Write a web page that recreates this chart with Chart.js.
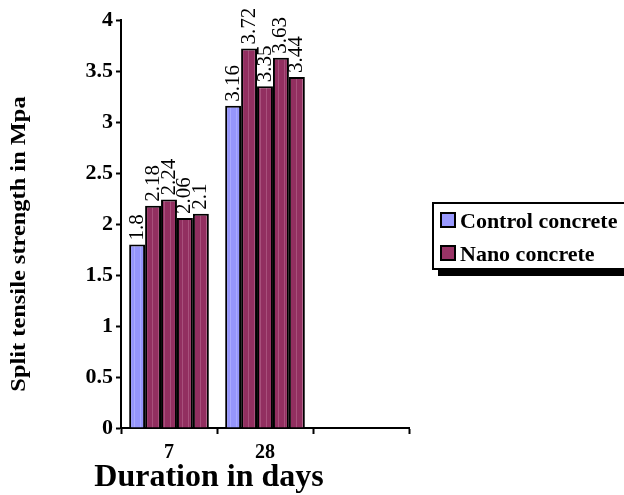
<!DOCTYPE html>
<html>
<head>
<meta charset="utf-8">
<script src="https://cdn.jsdelivr.net/npm/chart.js@4.4.1/dist/chart.umd.min.js"></script>
<style>
  html, body { margin: 0; padding: 0; background: #fff; overflow: hidden; }
  #wrap { position: relative; width: 624px; height: 495px; }
  #legend {
    position: absolute; left: 432px; top: 202px; width: 200px; height: 64px;
    border: 2px solid #000; background: #fff; box-shadow: 6px 6px 0 #000;
    font-family: "Liberation Serif", "Times New Roman", serif; font-weight: bold; font-size: 22px;
  }
  .item { position: absolute; left: 6px; height: 26px; line-height: 26px; white-space: nowrap; }
  .sw { display: inline-block; width: 12px; height: 12px; border: 2px solid #000; vertical-align: 0px; margin-right: 4px; }
</style>
</head>
<body>
<div id="wrap">
  <canvas id="c" width="624" height="495"></canvas>
  <div id="legend"></div>
</div>
<script>
// ---- data ----
const categories = ['7', '28', ''];
const controlConcrete = [1.8, 3.16, null];
const nanoConcreteA = [2.18, 3.72, null];
const nanoConcreteB = [2.24, 3.35, null];
const nanoConcreteC = [2.06, 3.63, null];
const nanoConcreteD = [2.1, 3.44, null];
const yTicks = [0, 0.5, 1, 1.5, 2, 2.5, 3, 3.5, 4];
const seriesNames = ['Control concrete', 'Nano concrete'];
const xTitle = 'Duration in days';
const yTitle = 'Split tensile strength in Mpa';

const SERIF = '"Liberation Serif", "Times New Roman", serif';
const controlColor = '#9999FF';
const nanoColor = '#993366';

function stripePattern(base, stripe) {
  const p = document.createElement('canvas');
  p.width = 6; p.height = 4;
  const g = p.getContext('2d');
  g.fillStyle = base; g.fillRect(0, 0, 6, 4);
  g.fillStyle = stripe; g.fillRect(2, 0, 1, 4);
  return document.getElementById('c').getContext('2d').createPattern(p, 'repeat');
}
const controlFill = stripePattern('#9595FB', '#A9A9FF');
const nanoFill = stripePattern('#922F60', '#A8507C');

function ds(label, data, fill) {
  return {
    label, data, backgroundColor: fill, borderColor: '#000', borderWidth: 2,
    borderSkipped: 'bottom', categoryPercentage: 0.83, barPercentage: 1.0
  };
}

const valueLabels = {
  id: 'valueLabels',
  afterDatasetsDraw(chart) {
    const ctx = chart.ctx;
    ctx.save();
    ctx.fillStyle = '#000';
    ctx.font = '21px ' + SERIF;
    ctx.textAlign = 'left';
    ctx.textBaseline = 'middle';
    chart.data.datasets.forEach((d, i) => {
      const meta = chart.getDatasetMeta(i);
      meta.data.forEach((el, j) => {
        const v = d.data[j];
        if (v == null) return;
        ctx.save();
        ctx.translate(el.x, el.y - 4);
        ctx.rotate(-Math.PI / 2);
        ctx.fillText(String(v), 0, 0);
        ctx.restore();
      });
    });
    ctx.restore();
  }
};

const titles = {
  id: 'titles',
  afterDraw(chart) {
    const ctx = chart.ctx;
    ctx.save();
    ctx.fillStyle = '#000';
    ctx.font = 'bold 32px ' + SERIF;
    ctx.textAlign = 'center';
    ctx.textBaseline = 'alphabetic';
    ctx.fillText(xTitle, 209, 486);
    ctx.translate(19, 244);
    ctx.rotate(-Math.PI / 2);
    ctx.scale(1.11, 1);
    ctx.font = 'bold 22px ' + SERIF;
    ctx.textBaseline = 'middle';
    ctx.fillText(yTitle, 0, 0);
    ctx.restore();
  }
};

new Chart(document.getElementById('c'), {
  type: 'bar',
  data: {
    labels: categories,
    datasets: [
      ds(seriesNames[0], controlConcrete, controlFill),
      ds(seriesNames[1], nanoConcreteA, nanoFill),
      ds(seriesNames[1], nanoConcreteB, nanoFill),
      ds(seriesNames[1], nanoConcreteC, nanoFill),
      ds(seriesNames[1], nanoConcreteD, nanoFill)
    ]
  },
  options: {
    responsive: false,
    animation: false,
    devicePixelRatio: 1,
    layout: { padding: { left: 0, right: 215, top: 20, bottom: 0 } },
    plugins: { legend: { display: false }, tooltip: { enabled: false }, title: { display: false } },
    scales: {
      x: {
        grid: { display: true, drawOnChartArea: false, drawTicks: true, tickLength: 6, tickWidth: 2, tickColor: '#000', offset: true },
        border: { display: true, color: '#000', width: 2 },
        ticks: { color: '#000', font: { family: SERIF, size: 20, weight: 'bold' }, padding: 7, maxRotation: 0 },
        afterFit(s) { s.height = 67; }
      },
      y: {
        min: 0, max: 4,
        afterBuildTicks(s) { s.ticks = yTicks.map(v => ({ value: v })); },
        grid: { display: true, drawOnChartArea: false, drawTicks: true, tickLength: 5, tickWidth: 2, tickColor: '#000' },
        border: { display: true, color: '#000', width: 2 },
        ticks: { color: '#000', font: { family: SERIF, size: 22, weight: 'bold' }, padding: 3, callback: v => String(v) },
        afterFit(s) { s.width = 121; }
      }
    }
  },
  plugins: [valueLabels, titles]
});

// legend (two entries, matching the chart's two series)
const legend = document.getElementById('legend');
[[seriesNames[0], controlColor, 0], [seriesNames[1], nanoColor, 33]].forEach(([name, col, top]) => {
  const it = document.createElement('div');
  it.className = 'item';
  it.style.top = (4 + top) + 'px';
  it.innerHTML = '<span class="sw" style="background:' + col + '"></span>';
  it.appendChild(document.createTextNode(name));
  legend.appendChild(it);
});
</script>
</body>
</html>
